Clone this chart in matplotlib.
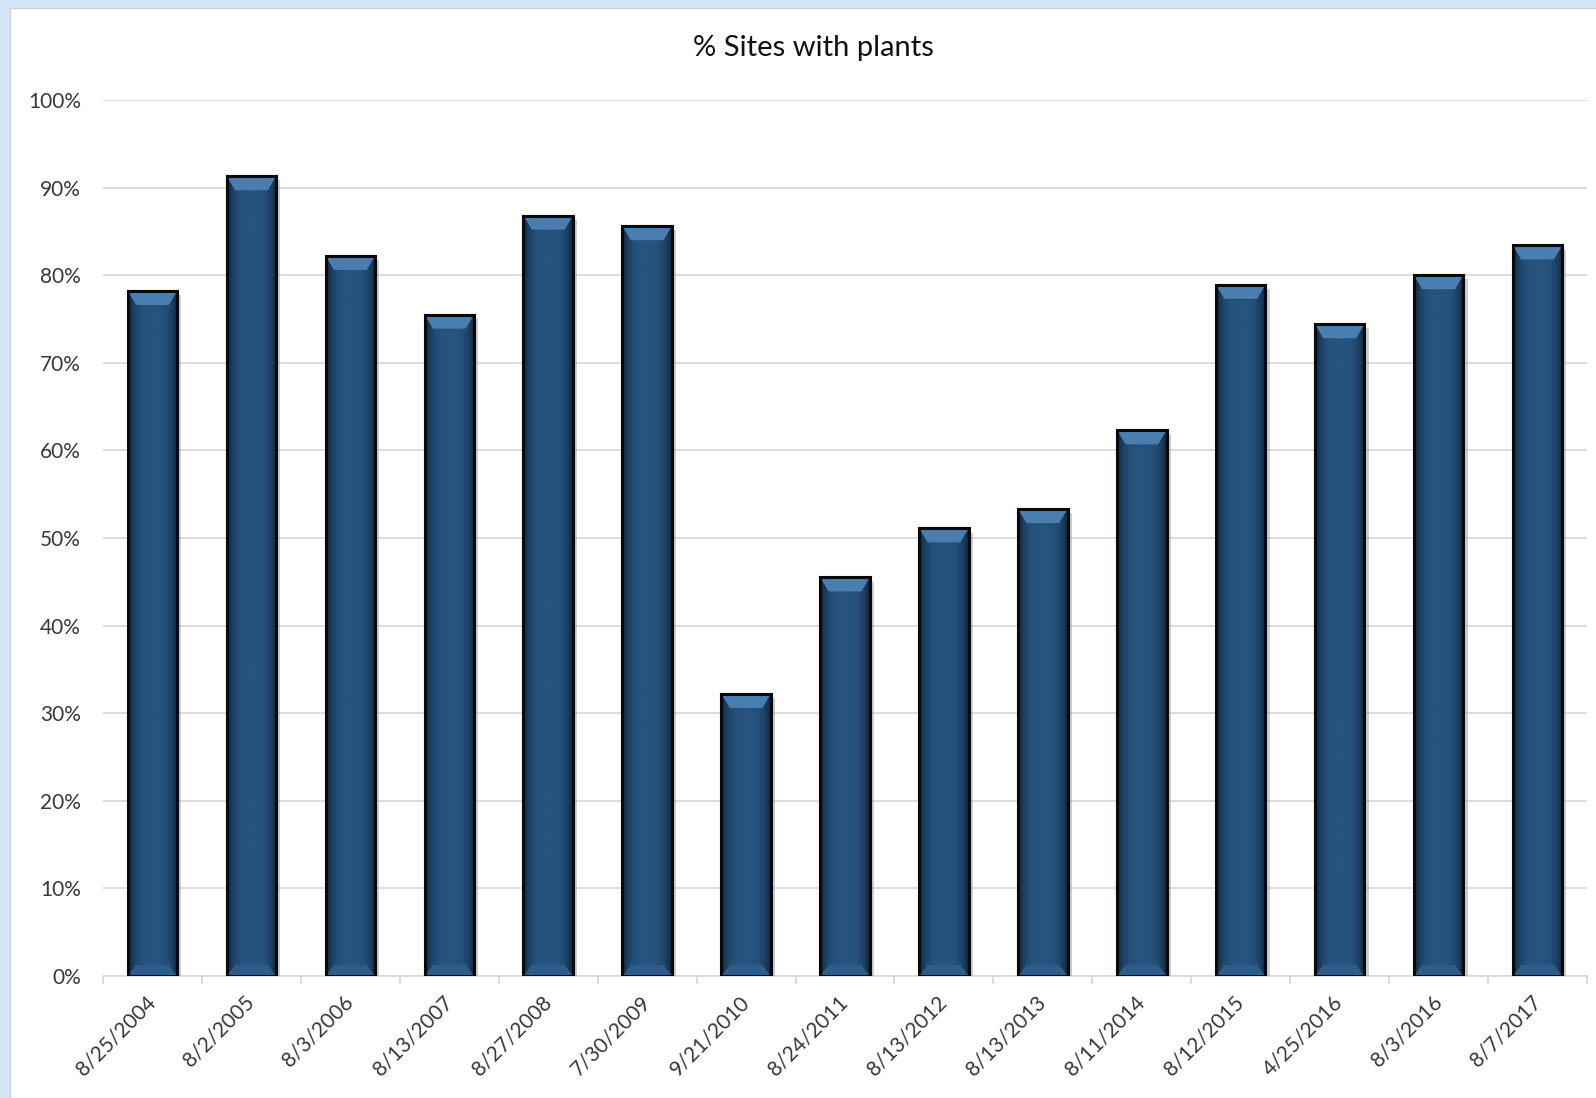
import numpy as np
import matplotlib
matplotlib.use("Agg")
import matplotlib.pyplot as plt
import matplotlib.patheffects as pe
from matplotlib.patches import Polygon, Rectangle
from matplotlib.transforms import ScaledTranslation
from matplotlib.colors import LinearSegmentedColormap

# sample dates and % of sites with plants
dates = ['8/25/2004', '8/2/2005', '8/3/2006', '8/13/2007', '8/27/2008',
         '7/30/2009', '9/21/2010', '8/24/2011', '8/13/2012', '8/13/2013',
         '8/11/2014', '8/12/2015', '4/25/2016', '8/3/2016', '8/7/2017']
pct_sites = [78.2, 91.3, 82.2, 75.5, 86.8, 85.6, 32.2, 45.5, 51.1, 53.3,
             62.3, 78.9, 74.4, 80.0, 83.4]

plt.rcParams['font.family'] = ['Lato', 'DejaVu Sans']

fig = plt.figure(figsize=(15.96, 10.98), dpi=100)
fig.patch.set_facecolor('#d3e6f7')
# white chart area inside the blue window frame
fig.add_artist(Rectangle((10 / 1596, 0), 1, 1 - 8 / 1098, transform=fig.transFigure,
                         facecolor='white', edgecolor='#d0d0d0', lw=1, zorder=0))

ax = fig.add_axes([103 / 1596, 1 - 976 / 1098, 1484 / 1596, 876 / 1098])
ax.set_facecolor('none')

x = np.arange(len(dates))
vals = np.array(pct_sites) / 100
w = 0.5

bars = ax.bar(x, vals, width=w, color='#25537f', edgecolor='#0a0a0a', linewidth=2.2, zorder=3)
for b in bars:
    b.set_path_effects([pe.SimplePatchShadow(offset=(3, -3), shadow_rgbFace='#7a7a7a', alpha=0.35),
                        pe.Normal()])

# horizontal shading across each bar (darker towards the sides)
grad = np.abs(np.linspace(-1, 1, 64)) ** 3
grad = grad[np.newaxis, :]
shade = LinearSegmentedColormap.from_list('shade', ['#26547f', '#10263d'])
bevel = 0.016
for xi, v, b in zip(x, vals, bars):
    im = ax.imshow(grad, cmap=shade, aspect='auto', extent=(xi - w / 2, xi + w / 2, 0, v),
                   zorder=3.5, interpolation='bilinear')
    im.set_clip_path(b)
    # lighter bevel at the top of the bar
    dx = w * 0.17
    top = Polygon([(xi - w / 2, v), (xi + w / 2, v), (xi + w / 2 - dx, v - bevel),
                   (xi - w / 2 + dx, v - bevel)], closed=True,
                  facecolor='#4a7db0', edgecolor='none', zorder=3.6)
    ax.add_patch(top)
    bot = Polygon([(xi - w / 2, 0), (xi + w / 2, 0), (xi + w / 2 - dx, bevel * 0.8),
                   (xi - w / 2 + dx, bevel * 0.8)], closed=True,
                  facecolor='#2d5c8a', edgecolor='none', zorder=3.6)
    ax.add_patch(bot)
    ax.add_patch(Rectangle((xi - w / 2, 0), w, v, facecolor='none', edgecolor='#0a0a0a',
                           lw=2.2, zorder=3.8))

ax.set_xlim(-0.5, len(dates) - 0.5)
ax.set_ylim(0, 1)
ax.set_yticks(np.arange(0, 1.01, 0.1))
ax.set_yticklabels([f'{int(round(t * 100))}%' for t in np.arange(0, 1.01, 0.1)])
ax.yaxis.grid(True, color='#d9d9d9', lw=1.3, zorder=0)
ax.set_axisbelow(True)

ax.set_xticks(x)
ax.set_xticklabels(dates, rotation=45, ha='right', rotation_mode='anchor')
ax.set_xticks(np.arange(-0.5, len(dates), 1), minor=True)
ax.tick_params(axis='x', which='major', length=0, pad=11.5, labelsize=15, labelcolor='#383838')
ax.tick_params(axis='x', which='minor', length=6, width=1.3, color='#d9d9d9')
ax.tick_params(axis='y', length=0, pad=16, labelsize=15, labelcolor='#383838')
for lab in ax.get_xticklabels():
    lab.set_transform(lab.get_transform() + ScaledTranslation(-0.07, 0, fig.dpi_scale_trans))

for s in ['left', 'right', 'top']:
    ax.spines[s].set_visible(False)
ax.spines['bottom'].set_color('#d9d9d9')
ax.spines['bottom'].set_linewidth(1.3)

fig.text(813 / 1596, 1 - 48 / 1098, '% Sites with plants', ha='center', va='center',
         fontsize=21, color='#111111')

fig.savefig('out.png', dpi=100)
